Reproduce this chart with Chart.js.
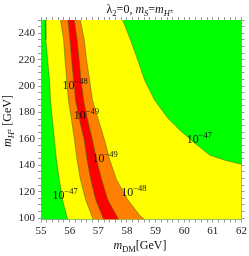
<!DOCTYPE html>
<html>
<head>
<meta charset="utf-8">
<script src="https://cdn.jsdelivr.net/npm/chart.js@4.4.1/dist/chart.umd.min.js"></script>
<style>
  html, body { margin: 0; padding: 0; background: #fff; }
  #wrap { width: 249px; height: 256px; }
</style>
</head>
<body>
<div id="wrap"><canvas id="contourChart"></canvas></div>
<script>
// boundaries, x = m_DM [GeV] at each m_H+- [GeV]
var yLevels = [250, 235, 220, 204, 189, 174, 159, 144, 129, 114, 99];
var greenLeftX  = [55.15, 55.17, 55.23, 55.30, 55.33, 55.40, 55.47, 55.54, 55.64, 55.75, 55.93];
var orangeLeftX = [55.68, 55.79, 55.84, 55.90, 55.96, 56.07, 56.17, 56.26, 56.38, 56.56, 56.82];
var redLeftX    = [55.94, 56.01, 56.07, 56.14, 56.21, 56.35, 56.51, 56.61, 56.74, 56.91, 57.19];
var redRightX   = [56.16, 56.26, 56.33, 56.40, 56.49, 56.63, 56.80, 56.94, 57.12, 57.33, 57.71];
var orangeRightY = [250, 235, 220, 204, 189, 174, 159, 144, 129, 114, 102, 99];
var orangeRightX = [56.37, 56.51, 56.59, 56.70, 56.80, 57.01, 57.22, 57.40, 57.64, 58.03, 58.45, 58.62];
var greenRightY = [250, 234.7, 219.6, 204.4, 189.3, 175.7, 166.6, 156.7, 147.7, 143.9, 140.8];
var greenRightX = [57.85, 58.13, 58.38, 58.62, 58.97, 59.43, 59.85, 60.37, 60.90, 61.42, 62.0];

// contour labels
var labelX   = [55.96, 56.35, 57.01, 58.01, 55.61, 60.30];
var labelY   = [200.6, 177.9, 145.9, 119.7, 117.4, 159.8];
var labelExp = ['\u221248', '\u221249', '\u221249', '\u221248', '\u221247', '\u221247'];

// axis tick labels
var xTickLabels = [55, 56, 57, 58, 59, 60, 61, 62];
var yTickLabels = [100, 120, 140, 160, 180, 200, 220, 240];

var xMin = 55, xMax = 62, yMin = 99, yMax = 250;
var xMinor = 0.2, yMinor = 5;

var GREEN = '#00ff00', YELLOW = '#ffff00', ORANGE = '#ff8000', RED = '#ff0000';
var LINE = 'rgba(50,100,0,0.6)';
var SERIF = '"Liberation Serif", "DejaVu Serif", serif';

function pts(xs, ys) {
    return xs.map(function (x, i) { return { x: x, y: ys[i] }; });
}

var greenLeft = pts(greenLeftX, yLevels);
var orangeLeft = pts(orangeLeftX, yLevels);
var redLeft = pts(redLeftX, yLevels);
var redRight = pts(redRightX, yLevels);
var orangeRight = pts(orangeRightX, orangeRightY);
var greenRight = pts(greenRightX, greenRightY);

var greenShape = [{ x: xMin, y: yMin }, { x: xMax, y: yMin }, { x: xMax, y: yMax }, { x: xMin, y: yMax }, { x: xMin, y: yMin }];
var yellowShape = greenLeft.concat([{ x: xMax, y: yMin }], greenRight.slice().reverse(), [greenLeft[0]]);
var orangeShape = orangeLeft.concat(orangeRight.slice().reverse(), [orangeLeft[0]]);
var redShape = redLeft.concat(redRight.slice().reverse(), [redLeft[0]]);

function region(data, color, order) {
    return { data: data, showLine: true, fill: 'shape', backgroundColor: color,
             borderWidth: 0, borderColor: color, pointRadius: 0, tension: 0, order: order };
}
function edge(data) {
    return { data: data, showLine: true, fill: false, borderColor: LINE,
             borderWidth: 0.8, pointRadius: 0, tension: 0, order: 0 };
}

// minor tick marks every step from the first labelled tick
function minorTicks(start, end, step) {
    var out = [];
    for (var v = start; v <= end + 1e-9; v += step) out.push({ value: Math.round(v * 1000) / 1000 });
    return out;
}

function drawParts(ctx, parts, x, y, align) {
    var w = 0;
    parts.forEach(function (p) { ctx.font = p.f; w += ctx.measureText(p.t).width; });
    var cx = align === 'center' ? x - w / 2 : x;
    parts.forEach(function (p) {
        ctx.font = p.f;
        ctx.fillText(p.t, cx, y + (p.dy || 0));
        cx += ctx.measureText(p.t).width;
    });
}

var textPlugin = {
    id: 'texts',
    afterDatasetsDraw: function (chart) {
        var ctx = chart.ctx, xs = chart.scales.x, ys = chart.scales.y;
        ctx.save();
        ctx.fillStyle = '#111';
        ctx.textAlign = 'left';
        ctx.textBaseline = 'alphabetic';
        var big = '12px ' + SERIF, ibig = 'italic 12px ' + SERIF;
        var sub = '8.5px ' + SERIF, isub = 'italic 8.5px ' + SERIF, tiny = '6.5px ' + SERIF;
        // contour labels
        for (var i = 0; i < labelX.length; i++) {
            var px = xs.getPixelForValue(labelX[i]);
            var py = ys.getPixelForValue(labelY[i]);
            ctx.font = big;
            var w = ctx.measureText('10').width;
            ctx.fillText('10', px - w / 2, py + 4);
            ctx.font = '8.5px ' + SERIF;
            ctx.fillText(labelExp[i], px + w / 2, py - 1);
        }
        // title
        drawParts(ctx, [
            { t: '\u03bb', f: big }, { t: '2', f: sub, dy: 3 }, { t: '=0, ', f: big },
            { t: 'm', f: ibig }, { t: 'S', f: isub, dy: 3 }, { t: '=', f: big },
            { t: 'm', f: ibig }, { t: 'H', f: isub, dy: 3 }, { t: '\u00b1', f: tiny, dy: 0 }
        ], 140, 13, 'center');
        // x axis title
        drawParts(ctx, [
            { t: 'm', f: ibig }, { t: 'DM', f: sub, dy: 3 }, { t: '[GeV]', f: big }
        ], 140, 249, 'center');
        // y axis title
        ctx.translate(11, 121);
        ctx.rotate(-Math.PI / 2);
        drawParts(ctx, [
            { t: 'm', f: ibig }, { t: 'H', f: isub, dy: 3 }, { t: '\u00b1', f: tiny, dy: 0 },
            { t: ' [GeV]', f: big }
        ], 0, 0, 'center');
        ctx.restore();
    }
};

function labelFor(list) {
    return function (v) {
        for (var i = 0; i < list.length; i++) {
            if (Math.abs(list[i] - v) < 1e-6) return String(list[i]);
        }
        return '';
    };
}

var tickFont = { family: SERIF, size: 11 };
var gridStyle = { drawOnChartArea: false, drawTicks: true, tickLength: 3, color: '#999' };

function xTicks(s) { s.ticks = minorTicks(xTickLabels[0], xMax, xMinor); }
function yTicks(s) { s.ticks = minorTicks(yTickLabels[0], yMax, yMinor); }

new Chart(document.getElementById('contourChart'), {
    type: 'scatter',
    data: {
        datasets: [
            region(greenShape, GREEN, 5),
            region(yellowShape, YELLOW, 4),
            region(orangeShape, ORANGE, 3),
            region(redShape, RED, 2),
            edge(greenLeft), edge(orangeLeft), edge(redLeft),
            edge(redRight), edge(orangeRight), edge(greenRight)
        ]
    },
    options: {
        responsive: true,
        maintainAspectRatio: false,
        animation: false,
        events: [],
        layout: { padding: { left: 0, right: 7.5, top: 20, bottom: 0 } },
        plugins: { legend: { display: false }, tooltip: { enabled: false }, title: { display: false } },
        scales: {
            x: {
                type: 'linear', position: 'bottom', min: xMin, max: xMax,
                grid: gridStyle,
                border: { color: '#999' },
                afterBuildTicks: xTicks,
                ticks: {
                    autoSkip: false, maxRotation: 0, padding: 2,
                    font: tickFont, color: '#222', callback: labelFor(xTickLabels)
                },
                afterFit: function (s) { s.height = 36.5; }
            },
            y: {
                type: 'linear', position: 'left', min: yMin, max: yMax,
                grid: gridStyle,
                border: { color: '#999' },
                afterBuildTicks: yTicks,
                ticks: {
                    autoSkip: false, padding: 3,
                    font: tickFont, color: '#222', callback: labelFor(yTickLabels)
                },
                afterFit: function (s) { s.width = 41; }
            },
            x2: {
                type: 'linear', position: 'top', min: xMin, max: xMax,
                grid: gridStyle,
                border: { color: '#999' },
                afterBuildTicks: xTicks,
                ticks: { autoSkip: false, display: false },
                afterFit: function (s) { s.height = 0; }
            },
            y2: {
                type: 'linear', position: 'right', min: yMin, max: yMax,
                grid: gridStyle,
                border: { color: '#999' },
                afterBuildTicks: yTicks,
                ticks: { autoSkip: false, display: false },
                afterFit: function (s) { s.width = 0; }
            }
        }
    },
    plugins: [textPlugin]
});
</script>
</body>
</html>
